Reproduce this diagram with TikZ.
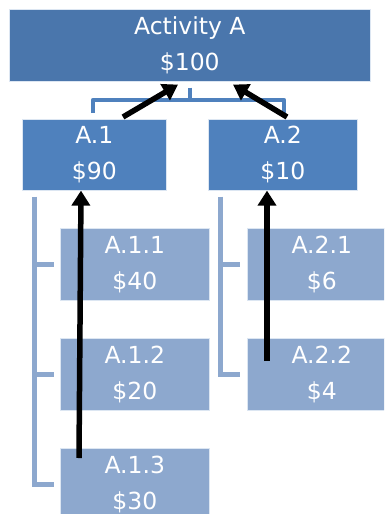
\documentclass[tikz,border=0pt]{standalone}
\usepackage{fontspec}
\setmainfont{DejaVu Sans}
\usetikzlibrary{arrows.meta,calc}
\definecolor{topblue}{HTML}{4A76AC}
\definecolor{midblue}{HTML}{4F81BD}
\definecolor{lightblue}{HTML}{8DA8CE}
\tikzset{
  box/.style={anchor=north west, rectangle, inner sep=0pt, align=center, text=white,
    font=\fontsize{23.5}{36}\selectfont, draw=white!80!midblue, line width=0.6pt},
  topbox/.style={box, fill=topblue, minimum width=361pt, minimum height=72pt},
  midbox/.style={box, fill=midblue, minimum height=71pt},
  leafbox/.style={box, fill=lightblue, minimum width=149pt, minimum height=72pt},
  topline/.style={draw=midblue, line width=4.5pt},
  leafline/.style={draw=lightblue, line width=4.5pt},
  flow/.style={draw=black, line width=5.5pt, -{Triangle[width=18pt,length=15pt]}}
}
\begin{document}
\begin{tikzpicture}[x=1pt,y=-1pt]
\useasboundingbox (0,0) rectangle (384,514);
\clip (0,0) rectangle (384,514);
\node[topbox] (A) at (9,9) {Activity A\\\$100};
\node[midbox, minimum width=144pt] (A1) at (22,119) {A.1\\\$90};
\node[midbox, minimum width=149pt] (A2) at (208,119) {A.2\\\$10};
\node[leafbox] (A11) at (60,228) {A.1.1\\\$40};
\node[leafbox] (A12) at (60,338) {A.1.2\\\$20};
\node[leafbox] (A13) at (60,448) {A.1.3\\\$30};
\node[leafbox] (A21) at (247,228) {A.2.1\\\$6};
\node[leafbox] (A22) at (247,338) {A.2.2\\\$4};
% top bracket
\coordinate (tb) at ($(A.south west)+(181,6)$);
\draw[topline] (tb) -- ++(0,13);
\draw[topline, line join=round] ($(A1.north west)+(71,-6)$) -- ++(0,-13) -| ($(A2.north west)+(76,-6)$);
% left bracket
\draw[leafline] ($(A1.south west)+(12.5,6)$) |- ($(A13.west)+(-6,0)$);
\draw[leafline] ($(A11.west)+(-25.5,0)$) -- ($(A11.west)+(-6,0)$);
\draw[leafline] ($(A12.west)+(-25.5,0)$) -- ($(A12.west)+(-6,0)$);
% right bracket
\draw[leafline] ($(A2.south west)+(12.7,6)$) |- ($(A22.west)+(-7,0)$);
\draw[leafline] ($(A21.west)+(-26.3,0)$) -- ($(A21.west)+(-7,0)$);
% flow arrows
\draw[flow] ($(A1.north west)+(101,-2)$) -- ($(A.south west)+(169,3)$);
\draw[flow] ($(A2.north west)+(79,-2)$) -- ($(A.south west)+(224,3)$);
\draw[flow] ($(A13.north west)+(19,10)$) -- ($(A1.south west)+(59,0)$);
\draw[flow] ($(A22.north west)+(20,23)$) -- ($(A2.south west)+(59,0)$);
\end{tikzpicture}
\end{document}
